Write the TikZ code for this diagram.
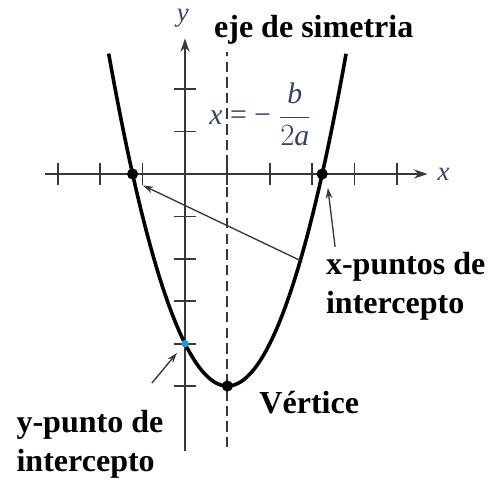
\documentclass[tikz,border=0pt]{standalone}
\usepackage{fontspec}
\setmainfont{Liberation Serif}
\usetikzlibrary{arrows.meta}
\definecolor{axisgray}{RGB}{55,55,55}
\definecolor{labelblue}{RGB}{55,65,105}
\definecolor{dotblue}{RGB}{30,150,220}
\tikzset{
 axisline/.style={axisgray,line width=1.4pt,-{Stealth[length=9pt,width=6pt]}},
 tickmark/.style={axisgray,line width=1.2pt},
 curve/.style={black,line width=2.4pt},
 pointer/.style={axisgray,line width=0.9pt,-{Stealth[length=7pt,width=4.5pt]}},
 bigtext/.style={font=\fontsize{21.5}{26}\selectfont\bfseries,align=left,inner sep=0pt},
 axlabel/.style={labelblue,inner sep=0pt,font=\fontsize{18}{21}\selectfont\itshape},
 dot/.style={circle,fill=black,inner sep=0pt,minimum size=7.5pt}
}
\begin{document}
\begin{tikzpicture}
 \useasboundingbox (-4.363,-7.288) rectangle (7.170,4.104);
 % ejes
 \draw[axisline] (-3.31,0)--(5.72,0);
 \draw[axisline] (0,-6.54)--(0,3.2);
 \foreach \t in {-3,-2,-1,1,2,3,4,5}
  \draw[tickmark] (\t,-0.27)--(\t,0.27);
 \foreach \t in {2,1,-1,-2,-3,-4,-5}
  \draw[tickmark] (-0.27,\t)--(0.27,\t);
 \node[axlabel] (xl) at (6.1,0) {x};
 \node[axlabel] (yl) at (-0.05,3.68) {y};
 % eje de simetria
 \node[labelblue,anchor=west,font=\fontsize{20}{24}\selectfont] (form) at (0.45,1.4)
  {\textit{x} = − $\displaystyle\frac{\textit{b}}{2\textit{a}}$};
 \draw[axisgray,line width=1.2pt,dash pattern=on 7pt off 3.5pt] (1,-6.45)--(1,2.87);
 \node[bigtext,anchor=west] (eje) at (0.68,3.40) {eje de simetria};
 % parabola
 \draw[curve] plot[domain=-1.8:3.8,samples=80] (\x,{(\x-1)^2-5});
 \node[dot] (p1) at (-1.236,0) {};
 \node[dot] (p2) at (3.236,0) {};
 \node[dot] (v) at (1,-5) {};
 \node[circle,fill=dotblue,inner sep=0pt,minimum size=5pt] (yi) at (0,-4) {};
 % etiquetas
 \node[bigtext,anchor=west] (xint) at (3.32,-2.65) {x-puntos de\\intercepto};
 \node[bigtext,anchor=west] (vert) at (1.75,-5.40) {Vértice};
 \node[bigtext,anchor=west] (yint) at (-3.98,-6.37) {y-punto de\\intercepto};
 \coordinate (s1) at (2.72,-2.04);
 \coordinate (t1) at (-0.99,-0.27);
 \coordinate (s2) at (3.54,-1.72);
 \coordinate (t2) at (3.37,-0.33);
 \coordinate (s3) at (-0.78,-4.93);
 \coordinate (t3) at (-0.19,-4.22);
 \draw[pointer] (s1)--(t1);
 \draw[pointer] (s2)--(t2);
 \draw[pointer] (s3)--(t3);
\end{tikzpicture}
\end{document}
